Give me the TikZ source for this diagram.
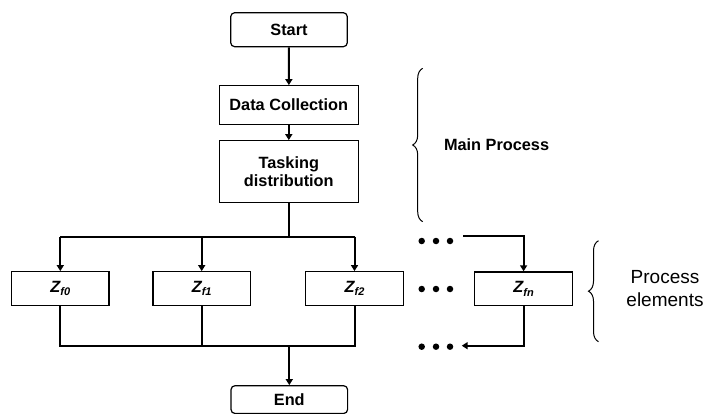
\documentclass[tikz,border=0pt]{standalone}
\usepackage{fontspec}
\setmainfont{Liberation Sans}
\usetikzlibrary{arrows.meta,decorations.pathreplacing}
\begin{document}
\begin{tikzpicture}[x=1pt,y=-1pt,
  boxtxt/.style={font=\fontsize{16.3}{19}\selectfont\bfseries},
  pbox/.style={draw, line width=1.2pt, boxtxt, align=center, inner sep=0pt},
  term/.style={pbox, rounded corners=4pt, minimum width=116.6pt, minimum height=34pt},
  zbox/.style={pbox, minimum width=97.5pt, minimum height=33.6pt},
  conn/.style={line width=2pt},
  arr/.style={conn, -{Triangle[width=7pt,length=6pt]}},
  dotm/.style={circle, fill, inner sep=0pt, minimum size=6.5pt},
  brc/.style={decorate, decoration={brace, amplitude=10pt}, line width=1pt}
]
\useasboundingbox (0,0) rectangle (706,414);

\node[term] (start) at (289,29.7) {Start};
\node[pbox, minimum width=139pt, minimum height=38.6pt] (data) at (288.8,105) {Data Collection};
\node[pbox, minimum width=139pt, minimum height=61.6pt] (task) at (288.8,171.5) {Tasking\\[-1pt]distribution};

\newcommand{\zlab}[1]{\textit{Z}\kern-0.5pt\raisebox{-3.5pt}{\fontsize{11}{11}\selectfont\bfseries\itshape #1}}
\node[zbox] (z0) at (60.3,288.5) {\zlab{f0}};
\node[zbox] (z1) at (201.7,288.5) {\zlab{f1}};
\node[zbox] (z2) at (354.5,288.5) {\zlab{f2}};
\node[zbox] (zn) at (523.6,288.7) {\zlab{fn}};
\node[term, minimum height=27.8pt] (end) at (289.3,399.6) {End};

% dots
\foreach \r/\yy in {t/241, m/289, b/346.7}{
  \node[dotm] (d\r1) at (421.7,\yy) {};
  \node[dotm] (d\r2) at (436,\yy) {};
  \node[dotm] (d\r3) at (450,\yy) {};
}

% main flow
\draw[arr] (start) -- (data);
\draw[arr] (data) -- (task);
\coordinate (split) at (288.8,236.5);
\coordinate (sl) at (60.3,236.5);
\coordinate (sr) at (354.5,236.5);
\draw[conn] (task.south) -- (split);
\draw[conn] (sl) -- (sr);
\draw[arr] (sl) -- (z0.north);
\draw[arr] (z1.north |- split) -- (z1.north);
\draw[arr] (sr) -- (z2.north);

\coordinate (jl) at (60.3,345.7);
\coordinate (jr) at (354.5,345.7);
\coordinate (jm) at (289.3,345.7);
\draw[conn] (z0.south) -- (jl) -- (jr) -- (z2.south);
\draw[conn] (z1.south) -- (z1.south |- jl);
\draw[arr] (jm) -- (end.north);

% right branch
\coordinate (tin) at (463.3,236);
\coordinate (bout) at (461.7,345.7);
\draw[arr] (tin) -| (zn.north);
\draw[arr] (zn.south) |- (bout);

% braces
\coordinate (b1t) at (422.7,68.3);
\coordinate (b1b) at (422.7,221.7);
\draw[brc] (b1b) -- (b1t);
\node[boxtxt, anchor=west] (mp) at (440.5,145) {Main Process};

\coordinate (b2t) at (598.5,240.7);
\coordinate (b2b) at (598.5,341.7);
\draw[brc] (b2b) -- (b2t);
\node[font=\fontsize{19}{23}\selectfont, align=center] (pe) at (665,288.5) {Process\\elements};
\end{tikzpicture}
\end{document}
